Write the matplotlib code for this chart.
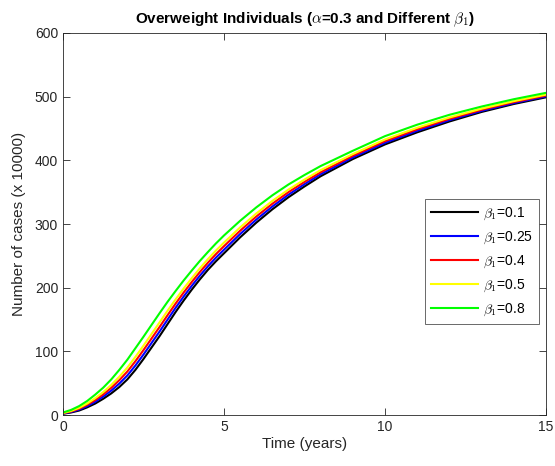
import matplotlib
matplotlib.use("Agg")
import matplotlib.pyplot as plt

plt.rcParams['font.family'] = ['Liberation Sans', 'DejaVu Sans']
plt.rcParams['mathtext.fontset'] = 'cm'

t = [0, 0.25, 0.5, 0.75, 1, 1.25, 1.5, 1.75, 2, 2.25, 2.5, 2.75, 3, 3.25, 3.5, 3.75, 4, 4.25, 4.5, 4.75, 5,
     5.5, 6, 6.5, 7, 7.5, 8, 9, 10, 11, 12, 13, 14, 15]
beta_01 = [2, 4, 7, 12, 18, 25.5, 34, 44, 56, 71, 88, 106, 124, 143, 162, 180, 197, 213, 228, 241.5, 254,
           279, 302, 323, 342, 359, 375, 402, 425, 444, 461, 476, 488.5, 499]
beta_025 = [2.4, 4.8, 8.4, 14, 20.8, 29, 38.4, 49.4, 62.2, 77.8, 95, 113.1, 131.2, 150, 168.6, 186.3, 203, 218.8, 233.6, 247.1, 259.6,
            284.2, 306.8, 327.4, 346, 362.6, 378.2, 404.6, 427.6, 446.4, 463.1, 477.7, 490, 500.4]
beta_04 = [2.8, 5.6, 9.8, 16, 23.6, 32.5, 42.8, 54.8, 68.4, 84.6, 102, 120.2, 138.4, 157, 175.2, 192.6, 209, 224.6, 239.2, 252.7, 265.2,
           289.4, 311.6, 331.8, 350, 366.2, 381.4, 407.2, 430.2, 448.8, 465.2, 479.4, 491.5, 501.8]
beta_05 = [3.2, 6.4, 11.2, 18, 26.4, 36, 47.2, 60.2, 74.6, 91.4, 109, 127.3, 145.6, 164, 181.8, 198.9, 215, 230.4, 244.8, 258.3, 270.8,
           294.6, 316.4, 336.2, 354, 369.8, 384.6, 409.8, 432.8, 451.2, 467.3, 481.1, 493, 503.2]
beta_08 = [4, 8, 14, 22, 32, 43, 56, 71, 87, 105, 123, 141.5, 160, 178, 195, 211.5, 227, 242, 256, 269.5, 282,
           305, 326, 345, 362, 377, 391, 415, 438, 456, 471.5, 484.5, 496, 506]

series = [beta_01, beta_025, beta_04, beta_05, beta_08]
labels = [r'$\beta_1$=0.1', r'$\beta_1$=0.25', r'$\beta_1$=0.4', r'$\beta_1$=0.5', r'$\beta_1$=0.8']
colors = ['#000000', '#0000ff', '#ff0000', '#ffff00', '#00ff00']

x_ticks = [0, 5, 10, 15]
y_ticks = [0, 100, 200, 300, 400, 500, 600]

fig = plt.figure(figsize=(5.55, 4.66), dpi=100)
ax = fig.add_axes([0.1135, 0.1094, 0.8703, 0.8198])

for y, lab, c in zip(series, labels, colors):
    ax.plot(t, y, color=c, linewidth=1.5, label=lab, solid_joinstyle='round')

ax.set_xlim(0, 15)
ax.set_ylim(0, 600)
ax.set_xticks(x_ticks)
ax.set_yticks(y_ticks)
axc = '#262626'
for s in ax.spines.values():
    s.set_color('#262626')
    s.set_linewidth(0.6)
ax.tick_params(direction='in', top=True, right=True, length=5, width=0.6,
               colors=axc, labelsize=10, labelcolor=axc)

ax.set_xlabel('Time (years)', fontsize=11, color=axc, labelpad=2)
ax.set_ylabel('Number of cases (x 10000)', fontsize=11, color=axc, labelpad=6)
ax.set_title(r'Overweight Individuals ($\alpha$=0.3 and Different $\beta_1$)',
             fontsize=11, fontweight='bold', pad=7)

leg = ax.legend(loc='upper right', bbox_to_anchor=(0.986, 0.5655), fontsize=10,
                frameon=True, fancybox=False, edgecolor='#262626',
                handlelength=3.4, handletextpad=0.35, borderpad=0.45,
                labelspacing=0.55, borderaxespad=0)
leg.get_frame().set_linewidth(0.6)

fig.savefig('out.png', dpi=100)
